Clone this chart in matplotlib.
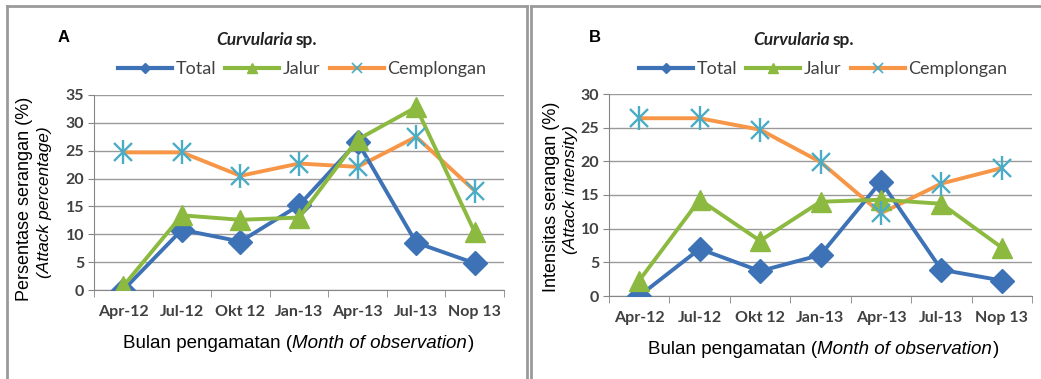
import matplotlib
matplotlib.use('Agg')
import matplotlib.pyplot as plt
from matplotlib.lines import Line2D

# data
months = ['Apr-12', 'Jul-12', 'Okt 12', 'Jan-13', 'Apr-13', 'Jul-13', 'Nop 13']

a_total = [0, 10.8, 8.7, 15.2, 26.6, 8.5, 4.8]
a_jalur = [0.7, 13.4, 12.6, 13.0, 27.0, 32.8, 10.4]
a_cemplongan = [24.7, 24.7, 20.5, 22.7, 22.1, 27.5, 17.8]

b_total = [0, 7.0, 3.7, 6.1, 17.0, 3.9, 2.3]
b_jalur = [2.3, 14.3, 8.2, 14.0, 14.3, 13.7, 7.2]
b_cemplongan = [26.4, 26.4, 24.7, 19.9, 12.3, 16.7, 19.0]

blue = '#3e72b6'
green = '#8cb93f'
orange = '#f79646'
cyan = '#4bacc6'
tick_col = '#404040'
W, H = 1041, 379

fig = plt.figure(figsize=(W / 100, H / 100), dpi=100)


def fx(px):
    return px / W


def fy(py):
    return 1 - py / H


def panel(rect, total, jalur, cemp, ymax, letter, ylab1, ylab2, pos):
    ax = fig.add_axes(rect)
    x = range(len(months))
    ax.plot(x, total, color=blue, lw=2.8, marker='D', ms=12, zorder=3)
    ax.plot(x, jalur, color=green, lw=2.8, marker='^', ms=14, zorder=4)
    ax.plot(x, cemp, color=orange, lw=2.8, zorder=2)
    ax.plot(x, cemp, ls='none', marker='x', ms=13, mew=1.7, color=cyan, zorder=5)
    ax.plot(x, cemp, ls='none', marker='|', ms=17, mew=1.7, color=cyan, zorder=5)

    ax.set_xlim(-0.5, len(months) - 0.5)
    ax.set_ylim(0, ymax)
    ax.set_yticks(range(0, ymax + 1, 5))
    ax.set_xticks(x)
    ax.set_xticklabels(months)
    ax.set_xticks([i - 0.5 for i in range(len(months) + 1)], minor=True)
    ax.tick_params(axis='x', which='major', length=0, pad=11,
                   labelsize=11.5, labelcolor=tick_col)
    ax.tick_params(axis='x', which='minor', length=5, color='#868686')
    ax.tick_params(axis='y', length=4, pad=3, labelsize=11.5,
                   labelcolor=tick_col, color='#868686')
    for lab in ax.get_xticklabels() + ax.get_yticklabels():
        lab.set_family('Lato')
        lab.set_fontweight('bold')
    ax.grid(axis='y', color='#9a9a9a', lw=1)
    ax.set_axisbelow(True)
    for s in ['top', 'right']:
        ax.spines[s].set_visible(False)
    for s in ['left', 'bottom']:
        ax.spines[s].set_color('#868686')

    lx, lyl1, lyl2, ylc, xlx, xly, tx, legx = pos
    fig.text(fx(lx), fy(37), letter, fontsize=12, fontweight='bold',
             family='Liberation Sans', ha='center', va='center')
    fig.text(fx(tx), fy(40), 'Curvularia', fontsize=12.5, style='italic',
             fontweight='bold', family='Lato', color='#222222',
             ha='right', va='center')
    fig.text(fx(tx + 3), fy(40), 'sp.', fontsize=12.5, fontweight='bold',
             family='Lato', color='#222222', ha='left', va='center')
    fig.text(fx(lyl1), fy(ylc[0]), ylab1, rotation=90, fontsize=13,
             family='Liberation Sans', ha='center', va='center')
    fig.text(fx(lyl2), fy(ylc[1]), ylab2, rotation=90, fontsize=12.5,
             style='italic', family='Liberation Sans', ha='center', va='center')
    fig.text(fx(xlx), fy(xly), 'Bulan pengamatan (', fontsize=13.5,
             family='Liberation Sans', ha='right', va='center')
    mid = fig.text(fx(xlx), fy(xly), 'Month of observation', fontsize=13.5,
                   style='italic', family='Liberation Sans', ha='left', va='center')
    fig.canvas.draw()
    bb = mid.get_window_extent()
    fig.text(bb.x1 / W + 0.001, fy(xly), ')', fontsize=13.5,
             family='Liberation Sans', ha='left', va='center')

    handles = [
        Line2D([], [], color=blue, lw=3, marker='D', ms=5),
        Line2D([], [], color=green, lw=3, marker='^', ms=7),
        Line2D([], [], color=orange, lw=3, marker='x', ms=7,
               mec=cyan, mew=1.2),
    ]
    leg = fig.legend(handles, ['Total', 'Jalur', 'Cemplongan'], loc='center',
                     bbox_to_anchor=(fx(legx), fy(69)), ncol=3, frameon=False,
                     handlelength=3.0, handletextpad=0.2, columnspacing=0.5,
                     prop={'family': 'Lato', 'size': 13})
    for t in leg.get_texts():
        t.set_color(tick_col)
    return ax


# panel A
panel([fx(94), fy(290), fx(504) - fx(94), fy(95) - fy(290)],
      a_total, a_jalur, a_cemplongan, 35, 'A',
      'Persentase serangan (%)', '(Attack percentage)',
      (64, 25, 45, (199, 202), 292, 343, 293, 302))

# panel B
panel([fx(609), fy(296), fx(1032) - fx(609), fy(94) - fy(296)],
      b_total, b_jalur, b_cemplongan, 30, 'B',
      'Intensitas serangan (%)', '(Attack intensity)',
      (595, 551, 571, (197, 190), 817, 350, 830, 823))

# panel frames
for xs, ys in [([6.5, 6.5], [6, H]), ([6.5, 527], [6, 6]), ([527, 527], [6, H]),
               ([530.5, 530.5], [6, H]), ([530.5, W], [6, 6])]:
    fig.add_artist(Line2D([fx(v) for v in xs], [fy(v) for v in ys],
                          color='#9a9a9a', lw=2))

fig.savefig('out.png', dpi=100)
